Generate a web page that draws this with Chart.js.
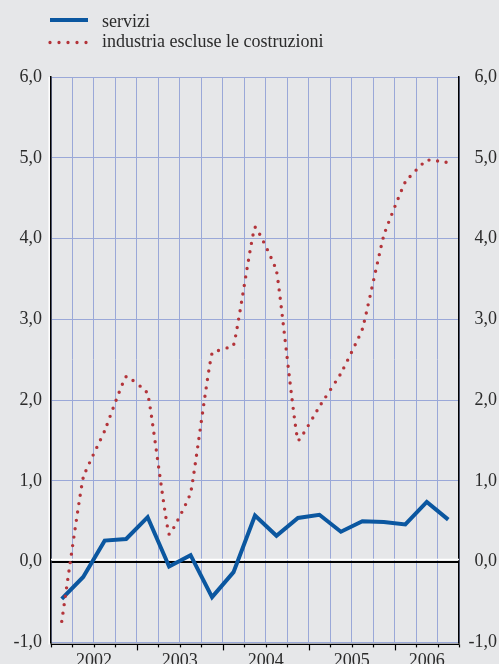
<!DOCTYPE html>
<html>
<head>
<meta charset="utf-8">
<script src="https://cdn.jsdelivr.net/npm/chart.js@4/dist/chart.umd.min.js"></script>
<style>
  html, body { margin: 0; padding: 0; background: #e6e7e9; overflow: hidden; }
  canvas { display: block; }
</style>
</head>
<body>
<canvas id="myChart" width="499" height="680"></canvas>
<script>
// trimestri dal 2002 al terzo trimestre 2006
const trimestri = [
  '2002-T1', '2002-T2', '2002-T3', '2002-T4',
  '2003-T1', '2003-T2', '2003-T3', '2003-T4',
  '2004-T1', '2004-T2', '2004-T3', '2004-T4',
  '2005-T1', '2005-T2', '2005-T3', '2005-T4',
  '2006-T1', '2006-T2', '2006-T3'
];
const servizi = [-0.46, -0.19, 0.26, 0.28, 0.55, -0.06, 0.08, -0.44, -0.13, 0.57,
  0.32, 0.54, 0.58, 0.37, 0.50, 0.49, 0.46, 0.74, 0.52];
const industria = [-0.74, 1.04, 1.62, 2.29, 2.08, 0.34, 0.85, 2.58, 2.68, 4.14,
  3.60, 1.50, 1.92, 2.33, 2.88, 4.04, 4.70, 4.97, 4.94];
const etichetteY = [-1, 0, 1, 2, 3, 4, 5, 6];
const nomiSerie = ['servizi', 'industria escluse le costruzioni'];

const BLU = '#0b57a0';
const ROSSO = '#b3343a';
const GRIGLIA = '#9aa8d8';
const TESTO = '#2b2b2b';
const FONT = { family: '"Liberation Serif", "Times New Roman", serif', size: 18 };

// un'etichetta per anno, al centro dei suoi trimestri
const anni = [];
trimestri.forEach((t, i) => {
  const a = t.split('-')[0];
  const last = anni[anni.length - 1];
  if (!last || last.anno !== a) anni.push({ anno: a, da: i, a: i + 1 });
  else last.a = i + 1;
});

const fmt = v => Number(v).toFixed(1).replace('.', ',');

const legenda = {
  id: 'legenda',
  afterDraw(chart) {
    const c = chart.ctx;
    c.save();
    c.strokeStyle = BLU;
    c.lineWidth = 4;
    c.beginPath(); c.moveTo(50, 20); c.lineTo(88, 20); c.stroke();
    c.strokeStyle = ROSSO;
    c.lineWidth = 3.3;
    c.lineCap = 'round';
    c.setLineDash([0, 9]);
    c.beginPath(); c.moveTo(50, 42.5); c.lineTo(87, 42.5); c.stroke();
    c.setLineDash([]);
    c.fillStyle = TESTO;
    c.font = FONT.size + 'px ' + FONT.family;
    c.textBaseline = 'alphabetic';
    c.fillText(chart.data.datasets[0].label, 102, 26.5);
    c.fillText(chart.data.datasets[1].label, 102, 46.5);
    c.restore();
  }
};

const assi = {
  id: 'assi',
  beforeDatasetsDraw(chart) {
    const c = chart.ctx;
    const area = chart.chartArea;
    const y0 = chart.scales.y.getPixelForValue(0);
    c.save();
    c.strokeStyle = '#ffffff';
    c.lineWidth = 1.5;
    c.beginPath(); c.moveTo(area.left, y0 - 2.2); c.lineTo(area.right, y0 - 2.2); c.stroke();
    c.beginPath(); c.moveTo(area.left - 1.8, area.top); c.lineTo(area.left - 1.8, area.bottom + 2); c.stroke();
    c.restore();
  },
  afterDraw(chart) {
    const c = chart.ctx;
    const area = chart.chartArea;
    const s = chart.scales.anni;
    const yb = area.bottom + 2;
    c.save();
    c.strokeStyle = '#000';
    c.lineWidth = 1.2;
    c.beginPath(); c.moveTo(area.left, yb); c.lineTo(area.right, yb); c.stroke();
    c.beginPath(); c.moveTo(area.left, area.bottom); c.lineTo(area.left, yb); c.stroke();
    c.beginPath(); c.moveTo(area.right, area.bottom); c.lineTo(area.right, yb); c.stroke();
    const inizi = anni.map(a => a.da);
    for (let i = 0; i <= trimestri.length; i++) {
      const x = Math.round(s.getPixelForValue(i)) + 0.5;
      const len = (inizi.includes(i) && i > 0) ? 6 : 3;
      c.beginPath(); c.moveTo(x, yb); c.lineTo(x, yb + len); c.stroke();
    }
    c.restore();
  }
};

const ctx = document.getElementById('myChart').getContext('2d');
const chart = new Chart(ctx, {
  type: 'line',
  data: {
    labels: trimestri,
    datasets: [
      { label: nomiSerie[0], data: servizi, borderColor: BLU, borderWidth: 4,
        pointRadius: 0, tension: 0, order: 1, yAxisID: 'y' },
      { label: nomiSerie[1], data: industria, borderColor: ROSSO, borderWidth: 3.4,
        borderDash: [0, 8.5], borderCapStyle: 'round', pointRadius: 0, tension: 0.1,
        order: 0, yAxisID: 'y' }
    ]
  },
  options: {
    responsive: false,
    animation: false,
    layout: { padding: { left: 0, right: 2, top: 77, bottom: 0 } },
    plugins: { legend: { display: false }, tooltip: { enabled: false } },
    scales: {
      x: {
        type: 'category', offset: true,
        grid: { offset: true, color: GRIGLIA, lineWidth: 1, drawTicks: false },
        border: { display: false },
        ticks: { display: false }
      },
      anni: {
        type: 'linear', position: 'bottom', min: 0, max: trimestri.length,
        afterBuildTicks: sc => { sc.ticks = anni.map(a => ({ value: (a.da + a.a) / 2 })); },
        grid: { display: false, drawTicks: false },
        border: { display: false },
        ticks: {
          autoSkip: false, maxRotation: 0, padding: 8, color: TESTO, font: FONT,
          callback: v => { const a = anni.find(x => (x.da + x.a) / 2 === v); return a ? a.anno : ''; }
        }
      },
      y: {
        position: 'left', min: etichetteY[0], max: etichetteY[etichetteY.length - 1],
        afterBuildTicks: sc => { sc.ticks = etichetteY.map(v => ({ value: v })); },
        afterFit: sc => { sc.width = 51; },
        ticks: { padding: 9, color: TESTO, font: FONT, callback: fmt },
        grid: {
          drawTicks: false,
          color: c => c.tick.value === 0 ? '#000' : GRIGLIA,
          lineWidth: c => c.tick.value === 0 ? 2 : 1
        },
        border: { color: '#000', width: 1.5 }
      },
      y2: {
        position: 'right', min: etichetteY[0], max: etichetteY[etichetteY.length - 1],
        afterBuildTicks: sc => { sc.ticks = etichetteY.map(v => ({ value: v })); },
        afterFit: sc => { sc.width = 38; },
        ticks: { padding: 13, color: TESTO, font: FONT, callback: fmt, crossAlign: 'far' },
        grid: { display: false, drawTicks: false },
        border: { color: '#000', width: 1.5 }
      }
    }
  },
  plugins: [legenda, assi]
});
</script>
</body>
</html>
